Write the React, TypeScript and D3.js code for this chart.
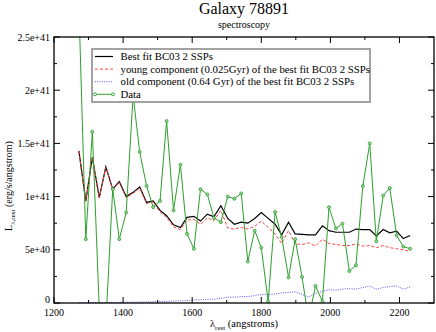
import React from "react";
import * as d3 from "d3";

const WAVELENGTH = [1272, 1292, 1311, 1331, 1350, 1370, 1389, 1409, 1429, 1448, 1468, 1487, 1507, 1526, 1546, 1566, 1585, 1605, 1624, 1644, 1663, 1683, 1703, 1722, 1742, 1761, 1781, 1800, 1820, 1840, 1859, 1879, 1898, 1918, 1937, 1957, 1977, 1996, 2016, 2035, 2055, 2074, 2094, 2114, 2133, 2153, 2172, 2192, 2211, 2231];

// values in units of 1e40 erg/s/angstrom
const BEST_FIT = [14.3, 9.6, 13.7, 9.9, 12.8, 10.7, 11.4, 10.0, 10.4, 10.9, 9.45, 9.6, 8.7, 8.2, 7.35, 7.1, 8.05, 8.15, 7.7, 8.35, 8.1, 9.15, 7.95, 7.4, 7.6, 7.5, 7.95, 8.5, 7.95, 7.4, 6.4, 7.6, 6.5, 6.45, 6.4, 6.4, 7.25, 6.8, 6.65, 6.65, 6.65, 6.95, 6.9, 6.9, 6.3, 6.9, 6.6, 6.75, 6.05, 6.35];
const YOUNG = [14.25, 9.55, 13.65, 9.85, 12.75, 10.65, 11.35, 9.9, 10.3, 10.8, 9.35, 9.5, 8.55, 8.05, 7.15, 6.9, 7.8, 7.85, 7.4, 8.0, 7.75, 8.7, 7.05, 6.95, 7.1, 6.95, 7.2, 7.7, 7.1, 6.5, 5.6, 6.8, 5.55, 5.5, 5.65, 5.35, 6.0, 5.6, 5.5, 5.4, 5.4, 5.55, 5.35, 5.4, 5.2, 5.4, 5.2, 5.1, 5.0, 4.85];
const OLD = [0.03, 0.03, 0.04, 0.04, 0.05, 0.05, 0.06, 0.07, 0.08, 0.08, 0.1, 0.12, 0.15, 0.15, 0.18, 0.2, 0.22, 0.3, 0.3, 0.35, 0.35, 0.45, 0.55, 0.55, 0.6, 0.6, 0.7, 0.8, 0.8, 0.85, 0.95, 1.0, 1.05, 0.8, 0.55, 0.9, 1.1, 1.25, 1.2, 1.3, 1.35, 1.3, 1.45, 1.6, 1.3, 1.45, 1.55, 1.6, 1.3, 1.5];
const DATA = [28, 6.0, 16.1, -0.5, -2, 10.7, 6.0, 8.5, 19.5, 14.2, 11.0, 9.0, 9.6, 17.1, 8.7, 13.0, 6.5, 5.1, 10.7, 10.2, 8.0, 7.6, 10.0, 9.8, 10.3, 3.9, 6.8, 5.2, 0.15, 8.55, 6.2, 2.4, 6.0, 2.45, -1.5, 1.6, 0.15, 9.0, 7.0, 7.45, 3.0, 3.55, 11.0, 15.0, 5.8, 10.1, 10.8, 6.35, 5.3, 5.1];

const X_TICKS = [1200, 1400, 1600, 1800, 2000, 2200];
const X_MINOR = [1300, 1500, 1700, 1900, 2100];
const Y_TICKS = [0, 5, 10, 15, 20, 25];
const Y_TICK_LABELS = ["0", "5e+40", "1e+41", "1.5e+41", "2e+41", "2.5e+41"];
const Y_MINOR = [2.5, 7.5, 12.5, 17.5, 22.5];

const LEGEND = [
  { label: "Best fit BC03 2 SSPs", color: "#000000", dash: "", width: 1.2 },
  { label: "young component (0.025Gyr) of the best fit BC03 2 SSPs", color: "#ff4040", dash: "3,2", width: 1 },
  { label: "old component (0.64 Gyr) of the best fit BC03 2 SSPs", color: "#5555ff", dash: "1,1.3", width: 1 },
  { label: "Data", color: "#2ca02c", dash: "", width: 1, marker: true },
];

const FONT = "Liberation Serif, DejaVu Serif, serif";

export default function App() {
  const W = 436, H = 332;
  const left = 54, right = 434, top = 37, bottom = 303;
  const x = d3.scaleLinear().domain([1200, 2300]).range([left, right]);
  const y = d3.scaleLinear().domain([0, 25]).range([bottom, top]);

  const mk = (vals: number[]) =>
    d3.line<number>().x((_, i) => x(WAVELENGTH[i])).y((d) => y(d))(vals) || "";

  const green = "#2ca02c";
  const axisW = 1.3;

  return (
    <svg width={W} height={H} style={{ position: "absolute", left: 0, top: 0, background: "#fff", fontFamily: FONT }}>
      <defs>
        <clipPath id="plotclip">
          <rect x={left} y={top} width={right - left} height={bottom - top} />
        </clipPath>
      </defs>
      <rect x={0} y={0} width={W} height={H} fill="#fff" />
      <text x={244} y={14} textAnchor="middle" fontSize={16} style={{ fontFamily: FONT }}>Galaxy 78891</text>
      <text x={244} y={28} textAnchor="middle" fontSize={10} style={{ fontFamily: FONT }}>spectroscopy</text>

      <g clipPath="url(#plotclip)">
        <path d={mk(BEST_FIT)} fill="none" stroke="#000" strokeWidth={1.2} />
        <path d={mk(YOUNG)} fill="none" stroke="#ff4040" strokeWidth={1} strokeDasharray="3,2" />
        <path d={mk(OLD)} fill="none" stroke="#5555ff" strokeWidth={1} strokeDasharray="1,1.3" />
        <path d={mk(DATA)} fill="none" stroke={green} strokeWidth={1} />
        {DATA.map((d, i) => (
          <circle key={i} cx={x(WAVELENGTH[i])} cy={y(d)} r={1.5} fill="#9ed49e" stroke={green} strokeWidth={0.8} />
        ))}
      </g>

      {/* frame */}
      <rect x={left} y={top} width={right - left} height={bottom - top} fill="none" stroke="#000" strokeWidth={axisW} />

      {/* x ticks */}
      {X_TICKS.map((t) => (
        <g key={"xt" + t}>
          <line x1={x(t)} x2={x(t)} y1={bottom} y2={bottom - 6} stroke="#000" strokeWidth={1} />
          <line x1={x(t)} x2={x(t)} y1={top} y2={top + 6} stroke="#000" strokeWidth={1} />
          <text x={x(t)} y={316} textAnchor="middle" fontSize={10} style={{ fontFamily: FONT }}>{t}</text>
        </g>
      ))}
      {X_MINOR.map((t) => (
        <g key={"xm" + t}>
          <line x1={x(t)} x2={x(t)} y1={bottom} y2={bottom - 3} stroke="#000" strokeWidth={1} />
          <line x1={x(t)} x2={x(t)} y1={top} y2={top + 3} stroke="#000" strokeWidth={1} />
        </g>
      ))}
      {/* y ticks */}
      {Y_TICKS.map((t, i) => (
        <g key={"yt" + t}>
          <line x1={left} x2={left + 6} y1={y(t)} y2={y(t)} stroke="#000" strokeWidth={1} />
          <line x1={right} x2={right - 6} y1={y(t)} y2={y(t)} stroke="#000" strokeWidth={1} />
          <text x={50} y={y(t) + (t === 0 ? 0 : 3.5)} textAnchor="end" fontSize={10} style={{ fontFamily: FONT }}>{Y_TICK_LABELS[i]}</text>
        </g>
      ))}
      {Y_MINOR.map((t) => (
        <g key={"ym" + t}>
          <line x1={left} x2={left + 3} y1={y(t)} y2={y(t)} stroke="#000" strokeWidth={1} />
          <line x1={right} x2={right - 3} y1={y(t)} y2={y(t)} stroke="#000" strokeWidth={1} />
        </g>
      ))}

      {/* axis titles */}
      <text x={244} y={327} textAnchor="middle" fontSize={10.5} style={{ fontFamily: FONT }}>
        λ<tspan fontSize={7} dy={3}>rest</tspan>
        <tspan dy={-3}> (angstroms)</tspan>
      </text>
      <text transform="translate(12,186) rotate(-90)" textAnchor="middle" fontSize={10} style={{ fontFamily: FONT }}>
        L<tspan fontSize={7} dy={3}>λ,rest</tspan>
        <tspan dy={-3}> (erg/s/angstrom)</tspan>
      </text>

      {/* legend */}
      <rect x={92} y={49} width={278} height={53} fill="#fff" stroke="#999" strokeWidth={1.8} />
      {LEGEND.map((e, i) => {
        const ly = 56.5 + i * 12.6;
        return (
          <g key={e.label}>
            <line x1={95} x2={113} y1={ly} y2={ly} stroke={e.color} strokeWidth={e.width} strokeDasharray={e.dash || undefined} />
            {e.marker ? (
              <>
                <circle cx={95} cy={ly} r={1.5} fill="#fff" stroke={e.color} strokeWidth={0.9} />
                <circle cx={113} cy={ly} r={1.5} fill="#fff" stroke={e.color} strokeWidth={0.9} />
              </>
            ) : null}
            <text x={120.5} y={ly + 3.6} fontSize={10.8} style={{ fontFamily: FONT }}>{e.label}</text>
          </g>
        );
      })}
    </svg>
  );
}
